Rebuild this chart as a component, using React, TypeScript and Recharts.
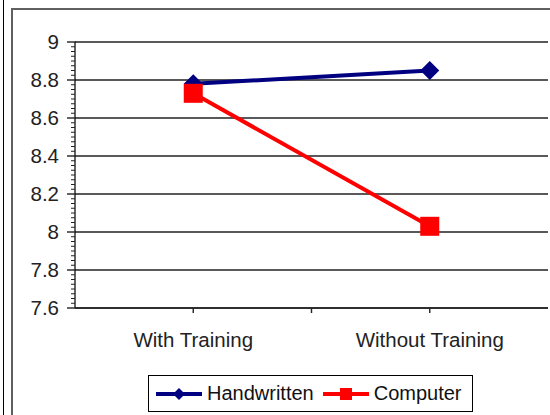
import { LineChart, Line, XAxis, YAxis, CartesianGrid, Legend } from 'recharts'

const categories = ['With Training', 'Without Training']
const handwritten = [8.78, 8.85]
const computer = [8.73, 8.03]
const yTicks = [7.6, 7.8, 8, 8.2, 8.4, 8.6, 8.8, 9]
// minor tick marks every 0.025 along the value axis
const allYTicks = Array.from({ length: 57 }, (_, i) => +(7.6 + i * 0.025).toFixed(3))

const data = categories.map((c, i) => ({ name: c, handwritten: handwritten[i], computer: computer[i] }))

const FONT = '"Liberation Sans", Arial, sans-serif'
const NAVY = '#000080'
const RED = '#ff0000'
const INK = '#222'

const Diamond = ({ cx, cy }: any) =>
  cx == null ? null : <path d={`M${cx},${cy - 9.5}L${cx + 9.5},${cy}L${cx},${cy + 9.5}L${cx - 9.5},${cy}Z`} fill={NAVY} />

const Square = ({ cx, cy }: any) =>
  cx == null ? null : <rect x={cx - 9.5} y={cy - 9.5} width={19} height={19} fill={RED} />

// tickSize 8 + tickMargin 8: axis line sits 16px right of the label anchor
const YTick = ({ x, y, payload }: any) => {
  const ax = x + 16
  const major = yTicks.some(v => Math.abs(v - payload.value) < 1e-6)
  return (
    <g>
      <line x1={major ? ax - 8 : ax - 4} x2={major ? ax + 1 : ax} y1={y} y2={y} stroke={INK} strokeWidth={major ? 1.4 : 1} />
      {major && (
        <text x={x} y={y} dy="0.355em" textAnchor="end" fontSize={20.5} fontFamily={FONT} fill={INK}>
          {payload.value}
        </text>
      )}
    </g>
  )
}

// tickSize 5 + tickMargin 19: axis line sits 24px above the label anchor
const XTick = ({ x, y, payload, index }: any) => {
  const ay = y - 24
  return (
    <g>
      <line x1={x} x2={x} y1={ay} y2={ay + 5} stroke={INK} strokeWidth={1.4} />
      {index === 0 && payload.offset != null && (
        <line x1={x + payload.offset} x2={x + payload.offset} y1={ay} y2={ay + 5} stroke={INK} strokeWidth={1.4} />
      )}
      <text x={x} y={y} dy="0.71em" textAnchor="middle" fontSize={20.5} fontFamily={FONT} fill={INK}>
        {payload.value}
      </text>
    </g>
  )
}

function LegendBox() {
  const item = (color: string, marker: 'd' | 's', label: string) => (
    <div style={{ display: 'flex', alignItems: 'center' }}>
      <svg width={48} height={20} style={{ display: 'block' }}>
        <line x1={1} y1={10} x2={47} y2={10} stroke={color} strokeWidth={4} />
        {marker === 'd'
          ? <path d="M24,4L30,10L24,16L18,10Z" fill={color} />
          : <rect x={18} y={4} width={12} height={12} fill={color} />}
      </svg>
      <span style={{ marginLeft: 4, marginRight: 8 }}>{label}</span>
    </div>
  )
  return (
    <div style={{
      display: 'flex', alignItems: 'center', border: '1px solid #000', background: '#fff',
      height: 37, padding: '0 2px 0 6px', fontFamily: FONT, fontSize: 20, color: '#111', boxSizing: 'border-box',
    }}>
      {item(NAVY, 'd', 'Handwritten')}
      {item(RED, 's', 'Computer')}
    </div>
  )
}

export default function App() {
  return (
    <div style={{ position: 'fixed', left: 0, top: 0, width: 550, height: 415, background: '#fff', overflow: 'hidden' }}>
      <div style={{ position: 'absolute', left: 3, top: 0, width: 1, height: 415, background: '#000' }} />
      <div style={{ position: 'absolute', left: 11, top: 8, width: 600, height: 500, border: '2px solid #606060' }} />
      <div style={{ position: 'absolute', left: 0, top: 0 }}>
        <LineChart width={550} height={415} data={data} margin={{ top: 42, right: 2, left: 0, bottom: 57 }}>
          <CartesianGrid vertical={false} horizontalValues={yTicks} stroke={INK} strokeWidth={1.4} />
          <XAxis
            dataKey="name"
            scale="band"
            axisLine={{ stroke: INK, strokeWidth: 1.4 }}
            tickLine={false}
            tickSize={5}
            tickMargin={19}
            height={50}
            tick={<XTick />}
          />
          <YAxis
            domain={[7.6, 9]}
            ticks={allYTicks}
            interval={0}
            axisLine={{ stroke: INK, strokeWidth: 1.4 }}
            tickLine={false}
            tickSize={8}
            tickMargin={8}
            width={75}
            tick={<YTick />}
          />
          <YAxis
            yAxisId="r"
            orientation="right"
            domain={[7.6, 9]}
            tick={false}
            tickLine={false}
            axisLine={{ stroke: INK, strokeWidth: 1.4 }}
            width={0}
          />
          <Legend
            verticalAlign="middle"
            align="center"
            content={() => <LegendBox />}
            wrapperStyle={{ top: 375, left: 148, width: 'auto' }}
          />
          <Line dataKey="handwritten" name="Handwritten" stroke={NAVY} strokeWidth={4} dot={<Diamond />} isAnimationActive={false} />
          <Line dataKey="computer" name="Computer" stroke={RED} strokeWidth={4} dot={<Square />} isAnimationActive={false} />
        </LineChart>
      </div>
    </div>
  )
}
